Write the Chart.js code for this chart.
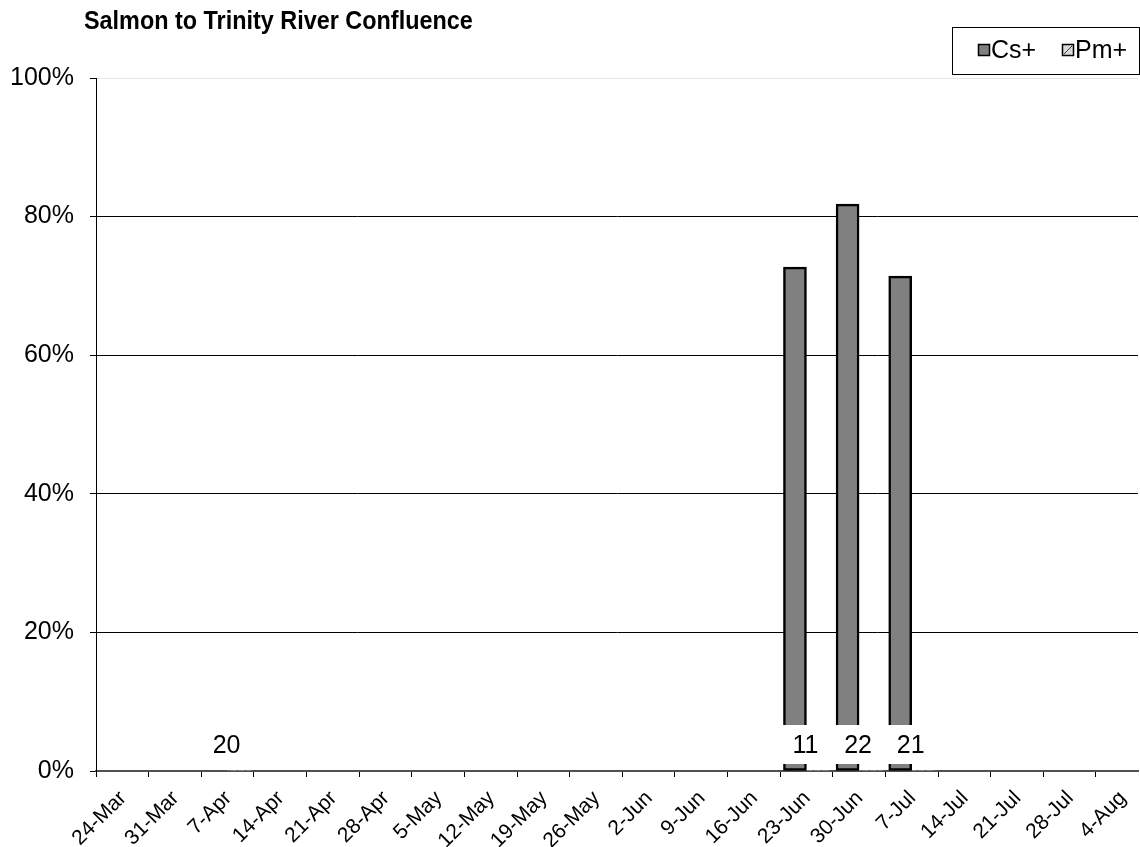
<!DOCTYPE html>
<html>
<head>
<meta charset="utf-8">
<title>Salmon to Trinity River Confluence</title>
<script src="https://cdn.jsdelivr.net/npm/chart.js@4.4.1/dist/chart.umd.min.js"></script>
<style>
  html, body { margin: 0; padding: 0; background: #fff; }
  #wrap { width: 1140px; height: 847px; }
</style>
</head>
<body>
<div id="wrap"><canvas id="chart" width="1140" height="847"></canvas></div>
<script>
// Chart data (weekly date axis, percent positive per sampling date)
const chartTitle = 'Salmon to Trinity River Confluence';
const axisStart = '24-Mar';
const tickLabels = ['24-Mar', '31-Mar', '7-Apr', '14-Apr', '21-Apr', '28-Apr', '5-May', '12-May',
    '19-May', '26-May', '2-Jun', '9-Jun', '16-Jun', '23-Jun', '30-Jun', '7-Jul', '14-Jul',
    '21-Jul', '28-Jul', '4-Aug'];
const sampleDates = ['10-Apr', '26-Jun', '3-Jul', '10-Jul'];
const csPositive = [0, 72.7, 81.8, 71.4];
const pmPositive = [0, 0, 0, 0];
const sampleSizes = [20, 11, 22, 21];
const yTickValues = [0, 20, 40, 60, 80, 100];

const MONTHS = ['Jan', 'Feb', 'Mar', 'Apr', 'May', 'Jun', 'Jul', 'Aug', 'Sep', 'Oct', 'Nov', 'Dec'];
const FONT = '"Liberation Sans", Arial, sans-serif';

// days since axisStart (UTC so DST doesn't get in the way)
const dayOf = (s) => {
    const [d, m] = s.split('-');
    const t = Date.UTC(2009, MONTHS.indexOf(m), +d);
    const [d0, m0] = axisStart.split('-');
    return (t - Date.UTC(2009, MONTHS.indexOf(m0), +d0)) / 86400000;
};
// excel date axis: a day's bar sits in the middle of its day slot
const slotCenter = (s) => dayOf(s) + 0.5;

const tickValues = tickLabels.map(dayOf);

const makeHatch = () => {
    const c = document.createElement('canvas');
    c.width = 8; c.height = 8;
    const g = c.getContext('2d');
    g.fillStyle = '#e0e0e0';
    g.fillRect(0, 0, 8, 8);
    g.strokeStyle = '#404040';
    g.lineWidth = 1;
    g.beginPath(); g.moveTo(0, 8); g.lineTo(8, 0); g.stroke();
    return g.createPattern(c, 'repeat');
};

Chart.defaults.font.family = FONT;
Chart.defaults.color = '#000';

// title, boxed legend and the n labels
const decorations = {
    id: 'decorations',
    afterDatasetsDraw(chart) {
        const { ctx, scales } = chart;
        const x = scales.x, y = scales.y;

        ctx.save();
        ctx.font = '25px ' + FONT;
        ctx.textAlign = 'center';
        ctx.textBaseline = 'middle';
        const yLab = y.getPixelForValue(0) - 26;
        sampleDates.forEach((d, i) => {
            const px = x.getPixelForValue(slotCenter(d));
            ctx.fillStyle = '#fff';
            ctx.fillRect(px - 26, yLab - 20, 52, 39);
            ctx.fillStyle = '#000';
            ctx.fillText(String(sampleSizes[i]), px - 1, yLab + 1);
        });
        ctx.restore();
    },
    afterDraw(chart) {
        const { ctx } = chart;
        ctx.save();
        ctx.fillStyle = '#000';
        ctx.font = 'bold 26px ' + FONT;
        ctx.textAlign = 'left';
        ctx.textBaseline = 'alphabetic';
        // the original title is a touch narrow for its height
        ctx.translate(84, 29);
        ctx.scale(0.9, 1);
        ctx.fillText(chartTitle, 0, 0);
        ctx.restore();

        ctx.save();
        // legend box
        ctx.strokeStyle = '#000';
        ctx.lineWidth = 1;
        ctx.strokeRect(952.5, 27.5, 187, 47);

        const items = [
            { ds: chart.data.datasets[0], bx: 978 },
            { ds: chart.data.datasets[1], bx: 1062 }
        ];
        ctx.font = '25px ' + FONT;
        ctx.textBaseline = 'middle';
        items.forEach(({ ds, bx }, i) => {
            ctx.fillStyle = i === 0 ? ds.backgroundColor : '#d9d9d9';
            ctx.fillRect(bx, 44, 12, 12);
            if (i === 1) {
                ctx.strokeStyle = '#404040';
                ctx.beginPath(); ctx.moveTo(bx + 2, 54); ctx.lineTo(bx + 10, 46); ctx.stroke();
            }
            ctx.strokeStyle = '#000';
            ctx.lineWidth = 1.5;
            ctx.strokeRect(bx + 0.5, 44.5, 11, 11);
            ctx.lineWidth = 1;
            ctx.fillStyle = '#000';
            ctx.fillText(ds.label, bx + 13, 51);
        });
        ctx.restore();
    }
};

new Chart(document.getElementById('chart'), {
    type: 'bar',
    data: {
        datasets: [
            {
                label: 'Cs+',
                data: sampleDates.map((d, i) => ({ x: slotCenter(d), y: csPositive[i] })),
                backgroundColor: '#808080',
                borderColor: '#000',
                borderWidth: 2.5,
                borderSkipped: false,
                barThickness: 23
            },
            {
                label: 'Pm+',
                data: sampleDates.map((d, i) => ({ x: slotCenter(d), y: pmPositive[i] })),
                backgroundColor: makeHatch(),
                borderColor: '#000',
                borderWidth: 0,
                barThickness: 23
            }
        ]
    },
    options: {
        responsive: false,
        animation: false,
        layout: { padding: { top: 78, right: 2, left: 0, bottom: 0 } },
        plugins: {
            legend: { display: false },
            title: { display: false },
            tooltip: { enabled: false }
        },
        scales: {
            x: {
                type: 'linear',
                min: 0,
                max: 138.6,
                offset: false,
                afterBuildTicks: (s) => { s.ticks = tickValues.map(v => ({ value: v })); },
                afterFit: (s) => { s.height = 76; },
                grid: {
                    display: true,
                    offset: false,
                    drawOnChartArea: false,
                    drawTicks: true,
                    tickLength: 6,
                    tickColor: '#000'
                },
                border: { display: true, color: '#505050', width: 2 },
                ticks: {
                    autoSkip: false,
                    minRotation: 45,
                    maxRotation: 45,
                    labelOffset: 27,
                    padding: 9,
                    font: { size: 21 },
                    color: '#000',
                    callback: (v) => tickLabels[tickValues.indexOf(v)]
                }
            },
            y: {
                min: 0,
                max: 100,
                afterBuildTicks: (s) => { s.ticks = yTickValues.map(v => ({ value: v })); },
                afterFit: (s) => { s.width = 96; },
                grid: {
                    color: (c) => c.tick.value === 100 ? '#e6e6e6' : (c.tick.value === 0 ? 'rgba(0,0,0,0)' : '#000'),
                    lineWidth: 1,
                    drawTicks: true,
                    tickLength: 6,
                    tickColor: '#000'
                },
                border: { display: true, color: '#000', width: 1 },
                ticks: {
                    padding: 16,
                    font: { size: 25 },
                    color: '#000',
                    callback: (v) => v + '%'
                }
            }
        }
    },
    plugins: [decorations]
});
</script>
</body>
</html>
